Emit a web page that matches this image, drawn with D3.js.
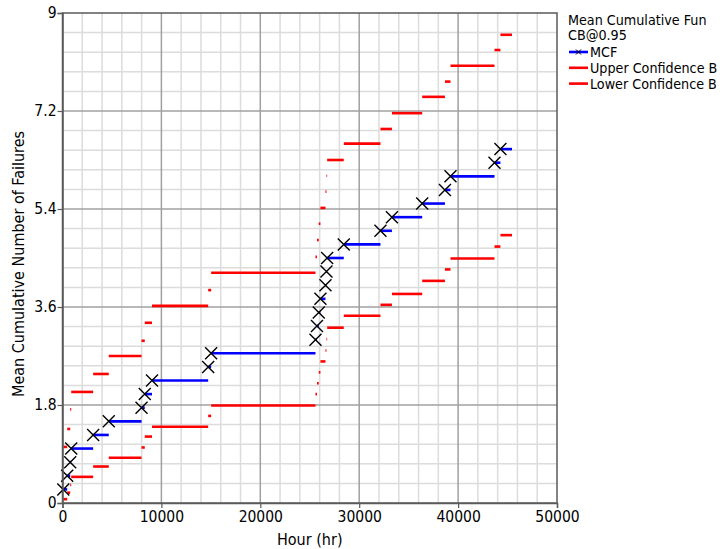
<!DOCTYPE html>
<html>
<head>
<meta charset="utf-8">
<script src="https://cdn.jsdelivr.net/npm/d3@7"></script>
<style>
  html, body { margin: 0; padding: 0; background: #fff; }
  svg { display: block; }
  text { font-family: "DejaVu Sans Condensed", "DejaVu Sans", sans-serif; }
</style>
</head>
<body>
<script>
// Failure times (hr) and the mean cumulative function after each failure
const failureHours = [80, 475, 780, 880, 3100, 4680, 7990, 8320, 9050, 14730, 15030,
  25580, 25730, 25910, 26080, 26590, 26690, 26760, 28440, 32150, 33310,
  36370, 38670, 39230, 43680, 44280];
const mcfValues = [0.25, 0.5, 0.75, 1.0, 1.25, 1.5, 1.75, 2.0, 2.25, 2.5, 2.75,
  3.0, 3.25, 3.5, 3.75, 4.0, 4.25, 4.5, 4.75, 5.0, 5.25,
  5.5, 5.75, 6.0, 6.25, 6.5];
const upperBound = [1.03, 1.36, 1.72, 2.04, 2.37, 2.70, 2.98, 3.31, 3.62, 3.91, 4.23,
  4.52, 4.83, 5.13, 5.42, 5.72, 6.01, 6.30, 6.60, 6.87, 7.16,
  7.46, 7.74, 8.03, 8.32, 8.60];
const lowerBound = [0.07, 0.19, 0.33, 0.48, 0.67, 0.83, 1.02, 1.22, 1.40, 1.60, 1.79,
  2.00, 2.20, 2.40, 2.60, 2.80, 3.01, 3.22, 3.44, 3.64, 3.84,
  4.08, 4.29, 4.49, 4.71, 4.92];
const endHour = 45450;

const xTicks = [0, 10000, 20000, 30000, 40000, 50000];
const xTickLabels = ["0", "10000", "20000", "30000", "40000", "50000"];
const yTicks = [0, 1.8, 3.6, 5.4, 7.2, 9];
const yTickLabels = ["0", "1.8", "3.6", "5.4", "7.2", "9"];
const xMinorStep = 2000;
const yMinorStep = 0.36;

const legendTitle = ["Mean Cumulative Fun", "CB@0.95"];
const legendItems = ["MCF", "Upper Confidence B", "Lower Confidence B"];

const W = 726, H = 549;
const plot = { left: 62.5, right: 557, top: 13, bottom: 503 };

const svg = d3.select("body").append("svg").attr("width", W).attr("height", H);

const x = d3.scaleLinear().domain([0, 50000]).range([plot.left, plot.right]);
const y = d3.scaleLinear().domain([0, 9]).range([plot.bottom, plot.top]);

// grid: minor lines first, then major lines
const xMinor = d3.range(0, 50000 + 1, xMinorStep).filter(v => !xTicks.includes(v));
const yMinor = d3.range(0, 9 + 1e-6, yMinorStep).map(v => +v.toFixed(2)).filter(v => !yTicks.some(t => Math.abs(t - v) < 1e-6));

const grid = svg.append("g");
grid.selectAll(".xm").data(xMinor).join("line")
  .attr("x1", d => x(d)).attr("x2", d => x(d)).attr("y1", plot.top).attr("y2", plot.bottom)
  .attr("stroke", "#dcdcdc").attr("stroke-width", 1.5);
grid.selectAll(".ym").data(yMinor).join("line")
  .attr("y1", d => y(d)).attr("y2", d => y(d)).attr("x1", plot.left).attr("x2", plot.right)
  .attr("stroke", "#dcdcdc").attr("stroke-width", 1.5);
grid.selectAll(".xM").data(xTicks.slice(1, -1)).join("line")
  .attr("x1", d => x(d)).attr("x2", d => x(d)).attr("y1", plot.top).attr("y2", plot.bottom)
  .attr("stroke", "#a0a0a0").attr("stroke-width", 1.5);
grid.selectAll(".yM").data(yTicks.slice(1, -1)).join("line")
  .attr("y1", d => y(d)).attr("y2", d => y(d)).attr("x1", plot.left).attr("x2", plot.right)
  .attr("stroke", "#a0a0a0").attr("stroke-width", 1.5);

// step segments: each value holds from its failure time to the next one
function steps(values) {
  return values.map((v, i) => ({
    x0: failureHours[i],
    x1: i + 1 < failureHours.length ? failureHours[i + 1] : endHour,
    v
  }));
}

function drawSteps(values, color) {
  svg.append("g").selectAll("line").data(steps(values)).join("line")
    .attr("x1", d => x(d.x0)).attr("x2", d => x(d.x1))
    .attr("y1", d => y(d.v)).attr("y2", d => y(d.v))
    .attr("stroke", color).attr("stroke-width", 2.6);
}

drawSteps(upperBound, "#ff0000");
drawSteps(lowerBound, "#ff0000");
drawSteps(mcfValues, "#0000ff");

// frame
svg.append("rect")
  .attr("x", plot.left).attr("y", plot.top)
  .attr("width", plot.right - plot.left).attr("height", plot.bottom - plot.top)
  .attr("fill", "none").attr("stroke", "#5a5a5a").attr("stroke-width", 1.5);

// failure markers
const m = 6;
svg.append("g").selectAll("path").data(failureHours.map((t, i) => [t, mcfValues[i]])).join("path")
  .attr("d", d => {
    const cx = x(d[0]), cy = y(d[1]);
    return `M${cx - m},${cy - m}L${cx + m},${cy + m}M${cx - m},${cy + m}L${cx + m},${cy - m}`;
  })
  .attr("stroke", "#000").attr("stroke-width", 1.4).attr("fill", "none");

// axes
const xAxis = svg.append("g").attr("transform", `translate(0,${plot.bottom})`)
  .call(d3.axisBottom(x).tickValues(xTicks).tickFormat((d, i) => xTickLabels[i]).tickSize(5).tickPadding(3));
const yAxis = svg.append("g").attr("transform", `translate(${plot.left},0)`)
  .call(d3.axisLeft(y).tickValues(yTicks).tickFormat((d, i) => yTickLabels[i]).tickSize(5).tickPadding(1));
[xAxis, yAxis].forEach(a => {
  a.select(".domain").attr("stroke", "#5a5a5a").attr("stroke-width", 1.5);
  a.selectAll(".tick line").attr("stroke", "#5a5a5a").attr("stroke-width", 1.2);
  a.selectAll("text").attr("font-size", 15.5).attr("fill", "#000")
    .attr("font-family", "\"DejaVu Sans Condensed\", \"DejaVu Sans\", sans-serif");
});

// axis titles
svg.append("text").attr("x", (plot.left + plot.right) / 2).attr("y", 545)
  .attr("text-anchor", "middle").attr("font-size", 16).text("Hour (hr)");
svg.append("text")
  .attr("transform", `translate(24,${(plot.top + plot.bottom) / 2 + 6}) rotate(-90)`)
  .attr("text-anchor", "middle").attr("font-size", 16).text("Mean Cumulative Number of Failures");

// legend
const lg = svg.append("g");
const rowGap = 15.8;
legendTitle.forEach((t, i) => {
  lg.append("text").attr("x", 568).attr("y", 24.5 + i * rowGap).attr("font-size", 14.2).text(t);
});
const legendColors = ["#0000ff", "#ff0000", "#ff0000"];
legendItems.forEach((t, i) => {
  const cy = 52 + i * rowGap;
  lg.append("line").attr("x1", 569).attr("x2", 588).attr("y1", cy).attr("y2", cy)
    .attr("stroke", legendColors[i]).attr("stroke-width", 2.6);
  if (i === 0) {
    lg.append("path").attr("d", `M${578.5 - 2.5},${cy - 2.5}L${578.5 + 2.5},${cy + 2.5}M${578.5 - 2.5},${cy + 2.5}L${578.5 + 2.5},${cy - 2.5}`)
      .attr("stroke", "#000").attr("stroke-width", 1);
  }
  lg.append("text").attr("x", 590).attr("y", cy + 5).attr("font-size", 14.2).text(t);
});
</script>
</body>
</html>
